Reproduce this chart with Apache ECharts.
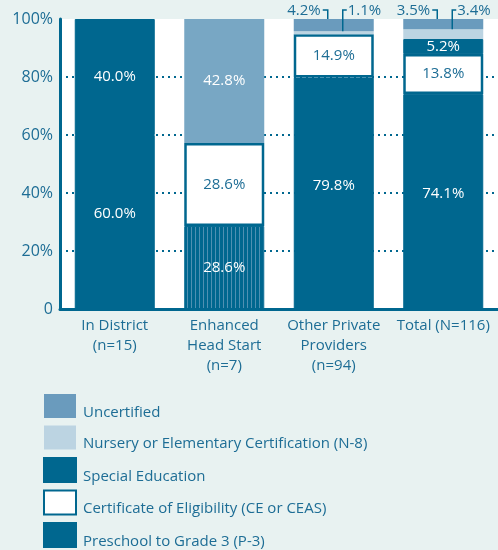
<!DOCTYPE html>
<html>
<head>
<meta charset="utf-8">
<script src="https://cdn.jsdelivr.net/npm/echarts@6/dist/echarts.min.js"></script>
<style>
  html, body { margin: 0; padding: 0; background: #e8f2f1; }
  #chart { width: 498px; height: 550px; }
</style>
</head>
<body>
<div id="chart"></div>
<script>
    // data (percent of teachers)
    var categories = ['In District\n(n=15)', 'Enhanced\nHead Start\n(n=7)', 'Other Private\nProviders\n(n=94)', 'Total (N=116)'];
    var preschool = [60.0, 28.6, 79.8, 74.1];     // Preschool to Grade 3 (P-3)
    var eligibility = [0, 28.6, 14.9, 13.8];      // Certificate of Eligibility
    var specialEd = [40.0, 0, 0, 5.2];            // Special Education
    var nursery = [0, 0, 1.1, 3.4];               // N-8
    var uncertified = [0, 42.8, 4.2, 3.5];        // Uncertified

    var DARK = '#00678f';
    var TEXT = '#1d6d95';
    var GRID_TOP = 19;
    var BAR_W = 80;

    // striped fill for the Enhanced Head Start P-3 block
    var cv = document.createElement('canvas');
    cv.width = 4; cv.height = 4;
    var ctx = cv.getContext('2d');
    ctx.fillStyle = DARK; ctx.fillRect(0, 0, 4, 4);
    ctx.fillStyle = '#4f90b2'; ctx.fillRect(3, 0, 1, 4);

    function pct(v) { return v.toFixed(1) + '%'; }
    function clean(arr) { return arr.map(function (v) { return v === 0 ? '-' : v; }); }

    var myChart = echarts.init(document.getElementById('chart'));

    var baseLabel = {
        show: true,
        fontFamily: 'Open Sans',
        fontSize: 15,
        color: '#fff',
        formatter: function (p) { return pct(p.value); }
    };

    myChart.setOption({
        backgroundColor: '#e8f2f1',
        textStyle: { fontFamily: 'Open Sans' },
        grid: { left: 60, top: GRID_TOP, width: 442, height: 290, show: true, backgroundColor: '#fff', borderWidth: 0 },
        legend: {
            orient: 'vertical',
            left: 43,
            top: 394,
            height: 220,
            padding: 0,
            itemWidth: 32,
            itemHeight: 24,
            itemGap: 5.5,
            icon: 'rect',
            selectedMode: false,
            formatter: function (name) { return '{t|' + name + '}'; },
            textStyle: {
                color: TEXT, fontSize: 15, fontFamily: 'Open Sans',
                rich: { t: { color: TEXT, fontSize: 15, fontFamily: 'Open Sans', padding: [13, 0, 0, 2] } }
            },
            data: ['Uncertified', 'Nursery or Elementary Certification (N-8)', 'Special Education',
                'Certificate of Eligibility (CE or CEAS)', 'Preschool to Grade 3 (P-3)']
        },
        xAxis: {
            type: 'category',
            data: categories,
            axisLine: { lineStyle: { color: DARK, width: 3 } },
            axisTick: { inside: true, length: 8, lineStyle: { color: DARK, width: 2 } },
            axisLabel: { color: TEXT, fontSize: 15, lineHeight: 20, margin: 7, interval: 0 }
        },
        yAxis: {
            type: 'value',
            min: 0,
            max: 100,
            interval: 20,
            axisLine: { show: true, lineStyle: { color: DARK, width: 3 } },
            axisTick: { show: false },
            axisLabel: {
                color: TEXT, fontSize: 16, margin: 7,
                formatter: function (v) { return v === 0 ? '0' : v + '%'; }
            },
            splitLine: { showMaxLine: false, lineStyle: { color: DARK, width: 2, type: [2, 4] } }
        },
        series: [
            {
                name: 'Preschool to Grade 3 (P-3)',
                type: 'bar',
                stack: 'all',
                barWidth: BAR_W,
                itemStyle: { color: DARK, borderColor: DARK, borderWidth: 1 },
                label: Object.assign({}, baseLabel, { offset: [0, -8] }),
                data: preschool.map(function (v, i) {
                    if (i === 1) {
                        return { value: v, itemStyle: { color: { image: cv, repetition: 'repeat' } }, label: { offset: [0, 0] } };
                    }
                    return v;
                })
            },
            {
                name: 'Certificate of Eligibility (CE or CEAS)',
                type: 'bar',
                stack: 'all',
                itemStyle: { color: '#fff', borderColor: DARK, borderWidth: 2.5 },
                label: Object.assign({}, baseLabel, { color: TEXT }),
                data: clean(eligibility)
            },
            {
                name: 'Special Education',
                type: 'bar',
                stack: 'all',
                itemStyle: { color: DARK, borderColor: DARK, borderWidth: 1 },
                label: baseLabel,
                data: clean(specialEd)
            },
            {
                name: 'Nursery or Elementary Certification (N-8)',
                type: 'bar',
                stack: 'all',
                itemStyle: { color: '#bcd4e2' },
                label: Object.assign({}, baseLabel, { color: TEXT }),
                labelLayout: function (p) {
                    var r = p.rect;
                    return { x: r.x + 54, y: GRID_TOP - 8, align: 'left', verticalAlign: 'middle' };
                },
                data: clean(nursery)
            },
            {
                name: 'Uncertified',
                type: 'bar',
                stack: 'all',
                itemStyle: { color: '#6a9bbd' },
                label: Object.assign({}, baseLabel, { color: TEXT }),
                labelLayout: function (p) {
                    if (p.dataIndex < 2) return {};
                    var r = p.rect;
                    return { x: r.x + 27, y: GRID_TOP - 8, align: 'right', verticalAlign: 'middle' };
                },
                data: clean(uncertified).map(function (v, i) {
                    if (i === 1) {
                        return { value: v, itemStyle: { color: '#78a7c4' }, label: { color: '#fff' } };
                    }
                    return v;
                })
            }
        ]
    });

    // bracket leader lines for the small top segments, placed through the axes
    var lines = [];
    var lineY = GRID_TOP - 9;
    [2, 3].forEach(function (i) {
        var cx = myChart.convertToPixel({ xAxisIndex: 0 }, i);
        var left = cx - BAR_W / 2;
        var topU = myChart.convertToPixel({ yAxisIndex: 0 }, preschool[i] + eligibility[i] + specialEd[i] + nursery[i] + uncertified[i]);
        var topN = myChart.convertToPixel({ yAxisIndex: 0 }, preschool[i] + eligibility[i] + specialEd[i] + nursery[i]);
        lines.push({
            type: 'polyline',
            shape: { points: [[left + 29, lineY], [left + 34, lineY], [left + 34, topU]] },
            style: { stroke: DARK, lineWidth: 1.5, fill: null },
            z: 10
        });
        lines.push({
            type: 'polyline',
            shape: { points: [[left + 49, topN], [left + 49, lineY], [left + 53, lineY]] },
            style: { stroke: DARK, lineWidth: 1.5, fill: null },
            z: 10
        });
    });
    myChart.setOption({ graphic: lines });
</script>
</body>
</html>
